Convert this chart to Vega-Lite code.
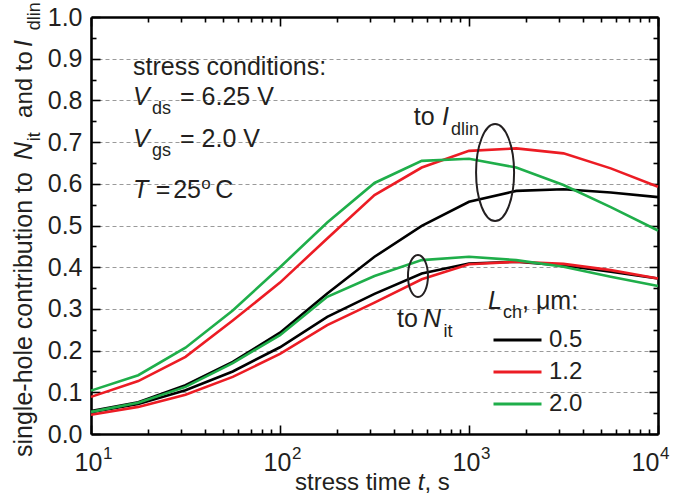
{
"$schema":"https://vega.github.io/schema/vega-lite/v6.json",
"width":567,"height":417,
"autosize":{"type":"none"},
"padding":{"left":91,"top":17,"right":19,"bottom":68},
"config":{"view":{"stroke":null},"font":"Liberation Sans","axis":{"labelFont":"Liberation Sans","labelColor":"#231f20"}},
"data":{"values":[{}]},
"datasets":{
"curves":[
{"L":"0.5","q":"Idlin","t":10,"v":0.055},{"L":"0.5","q":"Idlin","t":17.78,"v":0.076},{"L":"0.5","q":"Idlin","t":31.62,"v":0.117},{"L":"0.5","q":"Idlin","t":56.23,"v":0.173},{"L":"0.5","q":"Idlin","t":100,"v":0.243},{"L":"0.5","q":"Idlin","t":177.8,"v":0.337},{"L":"0.5","q":"Idlin","t":316.2,"v":0.425},{"L":"0.5","q":"Idlin","t":562.3,"v":0.499},{"L":"0.5","q":"Idlin","t":1000,"v":0.557},{"L":"0.5","q":"Idlin","t":1778,"v":0.583},{"L":"0.5","q":"Idlin","t":3162,"v":0.587},{"L":"0.5","q":"Idlin","t":5623,"v":0.579},{"L":"0.5","q":"Idlin","t":10000,"v":0.568},
{"L":"0.5","q":"Nit","t":10,"v":0.052},{"L":"0.5","q":"Nit","t":17.78,"v":0.072},{"L":"0.5","q":"Nit","t":31.62,"v":0.105},{"L":"0.5","q":"Nit","t":56.23,"v":0.150},{"L":"0.5","q":"Nit","t":100,"v":0.208},{"L":"0.5","q":"Nit","t":177.8,"v":0.281},{"L":"0.5","q":"Nit","t":316.2,"v":0.336},{"L":"0.5","q":"Nit","t":562.3,"v":0.385},{"L":"0.5","q":"Nit","t":1000,"v":0.409},{"L":"0.5","q":"Nit","t":1778,"v":0.413},{"L":"0.5","q":"Nit","t":3162,"v":0.404},{"L":"0.5","q":"Nit","t":5623,"v":0.389},{"L":"0.5","q":"Nit","t":10000,"v":0.373},
{"L":"1.2","q":"Idlin","t":10,"v":0.089},{"L":"1.2","q":"Idlin","t":17.78,"v":0.127},{"L":"1.2","q":"Idlin","t":31.62,"v":0.185},{"L":"1.2","q":"Idlin","t":56.23,"v":0.272},{"L":"1.2","q":"Idlin","t":100,"v":0.363},{"L":"1.2","q":"Idlin","t":177.8,"v":0.469},{"L":"1.2","q":"Idlin","t":316.2,"v":0.573},{"L":"1.2","q":"Idlin","t":562.3,"v":0.639},{"L":"1.2","q":"Idlin","t":1000,"v":0.679},{"L":"1.2","q":"Idlin","t":1778,"v":0.685},{"L":"1.2","q":"Idlin","t":3162,"v":0.673},{"L":"1.2","q":"Idlin","t":5623,"v":0.637},{"L":"1.2","q":"Idlin","t":10000,"v":0.593},
{"L":"1.2","q":"Nit","t":10,"v":0.046},{"L":"1.2","q":"Nit","t":17.78,"v":0.065},{"L":"1.2","q":"Nit","t":31.62,"v":0.094},{"L":"1.2","q":"Nit","t":56.23,"v":0.137},{"L":"1.2","q":"Nit","t":100,"v":0.192},{"L":"1.2","q":"Nit","t":177.8,"v":0.261},{"L":"1.2","q":"Nit","t":316.2,"v":0.315},{"L":"1.2","q":"Nit","t":562.3,"v":0.371},{"L":"1.2","q":"Nit","t":1000,"v":0.407},{"L":"1.2","q":"Nit","t":1778,"v":0.413},{"L":"1.2","q":"Nit","t":3162,"v":0.408},{"L":"1.2","q":"Nit","t":5623,"v":0.393},{"L":"1.2","q":"Nit","t":10000,"v":0.373},
{"L":"2.0","q":"Idlin","t":10,"v":0.104},{"L":"2.0","q":"Idlin","t":17.78,"v":0.141},{"L":"2.0","q":"Idlin","t":31.62,"v":0.207},{"L":"2.0","q":"Idlin","t":56.23,"v":0.296},{"L":"2.0","q":"Idlin","t":100,"v":0.400},{"L":"2.0","q":"Idlin","t":177.8,"v":0.507},{"L":"2.0","q":"Idlin","t":316.2,"v":0.602},{"L":"2.0","q":"Idlin","t":562.3,"v":0.655},{"L":"2.0","q":"Idlin","t":1000,"v":0.660},{"L":"2.0","q":"Idlin","t":1778,"v":0.639},{"L":"2.0","q":"Idlin","t":3162,"v":0.597},{"L":"2.0","q":"Idlin","t":5623,"v":0.544},{"L":"2.0","q":"Idlin","t":10000,"v":0.488},
{"L":"2.0","q":"Nit","t":10,"v":0.053},{"L":"2.0","q":"Nit","t":17.78,"v":0.075},{"L":"2.0","q":"Nit","t":31.62,"v":0.113},{"L":"2.0","q":"Nit","t":56.23,"v":0.170},{"L":"2.0","q":"Nit","t":100,"v":0.237},{"L":"2.0","q":"Nit","t":177.8,"v":0.329},{"L":"2.0","q":"Nit","t":316.2,"v":0.379},{"L":"2.0","q":"Nit","t":562.3,"v":0.417},{"L":"2.0","q":"Nit","t":1000,"v":0.425},{"L":"2.0","q":"Nit","t":1778,"v":0.417},{"L":"2.0","q":"Nit","t":3162,"v":0.401},{"L":"2.0","q":"Nit","t":5623,"v":0.377},{"L":"2.0","q":"Nit","t":10000,"v":0.355}
],
"dec":[{"t":10,"e":"1"},{"t":100,"e":"2"},{"t":1000,"e":"3"}]
},
"layer":[
{"data":{"name":"curves"},
 "mark":{"type":"line","strokeWidth":2.6},
 "encoding":{
  "x":{"field":"t","type":"quantitative","scale":{"type":"log","domain":[10,10000]},
   "axis":{"orient":"bottom","title":null,"grid":false,
    "values":[10,20,30,40,50,60,70,80,90,100,200,300,400,500,600,700,800,900,1000,2000,3000,4000,5000,6000,7000,8000,9000,10000],
    "labelExpr":"abs(log(datum.value)/LN10 - round(log(datum.value)/LN10)) < 0.001 ? '10' : ''",
    "labelFontSize":25,"labelPadding":25,"labelOverlap":false,"labelFlush":false,"labelBound":false,
    "labelOffset":{"condition":{"test":"datum.value > 5000","value":-13},"value":-3},
    "tickSize":{"condition":{"test":"abs(log(datum.value)/LN10 - round(log(datum.value)/LN10)) < 0.001","value":-9},"value":-5},
    "tickColor":"#000000","tickWidth":1.6,"domainColor":"#000000","domainWidth":2.6}},
  "y":{"field":"v","type":"quantitative","scale":{"domain":[0,1]},
   "axis":{"orient":"left","title":null,
    "values":[0,0.05,0.1,0.15,0.2,0.25,0.3,0.35,0.4,0.45,0.5,0.55,0.6,0.65,0.7,0.75,0.8,0.85,0.9,0.95,1],
    "labelExpr":"abs(datum.value*10 - round(datum.value*10)) < 0.001 ? format(datum.value, '.1f') : ''",
    "labelFontSize":25,"labelPadding":18,"labelOverlap":false,"labelFlush":false,"labelBound":false,
    "tickSize":{"condition":{"test":"abs(datum.value*10 - round(datum.value*10)) < 0.001","value":-9},"value":-5},
    "tickColor":"#000000","tickWidth":1.6,"domainColor":"#000000","domainWidth":2.6,
    "grid":true,"gridColor":"#9a9a9a","gridDash":[4,3],"gridWidth":1,
    "gridOpacity":{"condition":{"test":"abs(datum.value*10 - round(datum.value*10)) < 0.001 && datum.value > 0.01 && datum.value < 0.99","value":1},"value":0}}},
  "color":{"field":"L","type":"nominal","scale":{"domain":["0.5","1.2","2.0"],"range":["#000000","#ec1c24","#1fae4a"]},
   "legend":{"orient":"none","legendX":401,"legendY":307,"title":null,"symbolType":"stroke","symbolSize":2304,"symbolStrokeWidth":3,"labelFontSize":24,"labelFont":"Liberation Sans","labelColor":"#231f20","labelOffset":6,"rowPadding":0,"clipHeight":32}},
  "detail":{"field":"q"}
 }},
{"data":{"name":"curves"},
 "mark":{"type":"line","opacity":0},
 "encoding":{
  "x":{"field":"t","type":"quantitative","scale":{"type":"log","domain":[10,10000]},
   "axis":{"orient":"top","title":null,"labels":false,"grid":false,
    "values":[10,20,30,40,50,60,70,80,90,100,200,300,400,500,600,700,800,900,1000,2000,3000,4000,5000,6000,7000,8000,9000,10000],
    "tickSize":{"condition":{"test":"abs(log(datum.value)/LN10 - round(log(datum.value)/LN10)) < 0.001","value":-9},"value":-5},
    "tickColor":"#000000","tickWidth":1.6,"domainColor":"#000000","domainWidth":2.6}},
  "y":{"field":"v","type":"quantitative","scale":{"domain":[0,1]},
   "axis":{"orient":"right","title":null,"labels":false,"grid":false,
    "values":[0,0.05,0.1,0.15,0.2,0.25,0.3,0.35,0.4,0.45,0.5,0.55,0.6,0.65,0.7,0.75,0.8,0.85,0.9,0.95,1],
    "tickSize":{"condition":{"test":"abs(datum.value*10 - round(datum.value*10)) < 0.001","value":-9},"value":-5},
    "tickColor":"#000000","tickWidth":1.6,"domainColor":"#000000","domainWidth":2.6}}
 }},
{"data":{"name":"dec"},
 "mark":{"type":"text","align":"left","baseline":"alphabetic","fontSize":17,"dx":12,"dy":25,"color":"#231f20"},
 "encoding":{"x":{"field":"t","type":"quantitative","axis":null},"y":{"datum":0,"type":"quantitative","axis":null},"text":{"field":"e"}}},
{"mark":{"type":"text","align":"left","baseline":"alphabetic","fontSize":17,"dx":2,"dy":25,"color":"#231f20","text":"4"},
 "encoding":{"x":{"datum":10000,"type":"quantitative","axis":null},"y":{"datum":0,"type":"quantitative","axis":null}}},
{"mark":{"type":"point","shape":"M0,-1A0.392,1,0,1,1,0,1A0.392,1,0,1,1,0,-1Z","size":9409,"filled":false,"stroke":"#231f20","strokeWidth":2,"opacity":1},
 "encoding":{"x":{"datum":1374,"type":"quantitative","axis":null},"y":{"datum":0.627,"type":"quantitative","axis":null}}},
{"mark":{"type":"point","shape":"M0,-1A0.476,1,0,1,1,0,1A0.476,1,0,1,1,0,-1Z","size":1764,"filled":false,"stroke":"#231f20","strokeWidth":2,"opacity":1},
 "encoding":{"x":{"datum":537,"type":"quantitative","axis":null},"y":{"datum":0.379,"type":"quantitative","axis":null}}},
{"mark":{"type":"text","align":"left","baseline":"alphabetic","fontSize":25,"color":"#231f20","text":"stress conditions:"},
 "encoding":{"x":{"datum":16.68,"type":"quantitative","axis":null},"y":{"datum":0.861,"type":"quantitative","axis":null}}},
{"mark":{"type":"text","align":"left","baseline":"alphabetic","fontSize":25,"fontStyle":"italic","color":"#231f20","text":"V"},
 "encoding":{"x":{"datum":16.68,"type":"quantitative","axis":null},"y":{"datum":0.789,"type":"quantitative","axis":null}}},
{"mark":{"type":"text","align":"left","baseline":"alphabetic","fontSize":18,"color":"#231f20","text":"ds"},
 "encoding":{"x":{"datum":21.02,"type":"quantitative","axis":null},"y":{"datum":0.767,"type":"quantitative","axis":null}}},
{"mark":{"type":"text","align":"left","baseline":"alphabetic","fontSize":25,"color":"#231f20","text":"= 6.25 V"},
 "encoding":{"x":{"datum":29.58,"type":"quantitative","axis":null},"y":{"datum":0.789,"type":"quantitative","axis":null}}},
{"mark":{"type":"text","align":"left","baseline":"alphabetic","fontSize":25,"fontStyle":"italic","color":"#231f20","text":"V"},
 "encoding":{"x":{"datum":16.68,"type":"quantitative","axis":null},"y":{"datum":0.688,"type":"quantitative","axis":null}}},
{"mark":{"type":"text","align":"left","baseline":"alphabetic","fontSize":18,"color":"#231f20","text":"gs"},
 "encoding":{"x":{"datum":21.02,"type":"quantitative","axis":null},"y":{"datum":0.667,"type":"quantitative","axis":null}}},
{"mark":{"type":"text","align":"left","baseline":"alphabetic","fontSize":25,"color":"#231f20","text":"= 2.0 V"},
 "encoding":{"x":{"datum":29.58,"type":"quantitative","axis":null},"y":{"datum":0.688,"type":"quantitative","axis":null}}},
{"mark":{"type":"text","align":"left","baseline":"alphabetic","fontSize":25,"fontStyle":"italic","color":"#231f20","text":"T"},
 "encoding":{"x":{"datum":16.68,"type":"quantitative","axis":null},"y":{"datum":0.566,"type":"quantitative","axis":null}}},
{"mark":{"type":"text","align":"left","baseline":"alphabetic","fontSize":25,"color":"#231f20","text":"="},
 "encoding":{"x":{"datum":22.0,"type":"quantitative","axis":null},"y":{"datum":0.566,"type":"quantitative","axis":null}}},
{"mark":{"type":"text","align":"left","baseline":"alphabetic","fontSize":25,"color":"#231f20","text":"25"},
 "encoding":{"x":{"datum":27.2,"type":"quantitative","axis":null},"y":{"datum":0.566,"type":"quantitative","axis":null}}},
{"mark":{"type":"text","align":"left","baseline":"alphabetic","fontSize":17,"color":"#231f20","text":"o"},
 "encoding":{"x":{"datum":38.3,"type":"quantitative","axis":null},"y":{"datum":0.587,"type":"quantitative","axis":null}}},
{"mark":{"type":"text","align":"left","baseline":"alphabetic","fontSize":25,"color":"#231f20","text":"C"},
 "encoding":{"x":{"datum":45.5,"type":"quantitative","axis":null},"y":{"datum":0.566,"type":"quantitative","axis":null}}},
{"mark":{"type":"text","align":"left","baseline":"alphabetic","fontSize":25,"color":"#231f20","text":"to"},
 "encoding":{"x":{"datum":510,"type":"quantitative","axis":null},"y":{"datum":0.741,"type":"quantitative","axis":null}}},
{"mark":{"type":"text","align":"left","baseline":"alphabetic","fontSize":25,"fontStyle":"italic","color":"#231f20","text":"I"},
 "encoding":{"x":{"datum":719.5,"type":"quantitative","axis":null},"y":{"datum":0.741,"type":"quantitative","axis":null}}},
{"mark":{"type":"text","align":"left","baseline":"alphabetic","fontSize":18,"color":"#231f20","text":"dlin"},
 "encoding":{"x":{"datum":803,"type":"quantitative","axis":null},"y":{"datum":0.717,"type":"quantitative","axis":null}}},
{"mark":{"type":"text","align":"left","baseline":"alphabetic","fontSize":25,"color":"#231f20","text":"to"},
 "encoding":{"x":{"datum":416,"type":"quantitative","axis":null},"y":{"datum":0.257,"type":"quantitative","axis":null}}},
{"mark":{"type":"text","align":"left","baseline":"alphabetic","fontSize":25,"fontStyle":"italic","color":"#231f20","text":"N"},
 "encoding":{"x":{"datum":571,"type":"quantitative","axis":null},"y":{"datum":0.257,"type":"quantitative","axis":null}}},
{"mark":{"type":"text","align":"left","baseline":"alphabetic","fontSize":18,"color":"#231f20","text":"it"},
 "encoding":{"x":{"datum":733,"type":"quantitative","axis":null},"y":{"datum":0.233,"type":"quantitative","axis":null}}},
{"mark":{"type":"text","align":"left","baseline":"alphabetic","fontSize":25,"fontStyle":"italic","color":"#231f20","text":"L"},
 "encoding":{"x":{"datum":1261,"type":"quantitative","axis":null},"y":{"datum":0.300,"type":"quantitative","axis":null}}},
{"mark":{"type":"text","align":"left","baseline":"alphabetic","fontSize":18,"color":"#231f20","text":"ch"},
 "encoding":{"x":{"datum":1513,"type":"quantitative","axis":null},"y":{"datum":0.278,"type":"quantitative","axis":null}}},
{"mark":{"type":"text","align":"left","baseline":"alphabetic","fontSize":25,"color":"#231f20","text":", μm:"},
 "encoding":{"x":{"datum":1908,"type":"quantitative","axis":null},"y":{"datum":0.300,"type":"quantitative","axis":null}}},
{"mark":{"type":"text","align":"left","baseline":"alphabetic","fontSize":24,"color":"#231f20","text":"stress time "},
 "encoding":{"x":{"datum":120.0,"type":"quantitative","axis":null},"y":{"datum":-0.1343,"type":"quantitative","axis":null}}},
{"mark":{"type":"text","align":"left","baseline":"alphabetic","fontSize":24,"fontStyle":"italic","color":"#231f20","text":"t"},
 "encoding":{"x":{"datum":535.4,"type":"quantitative","axis":null},"y":{"datum":-0.1343,"type":"quantitative","axis":null}}},
{"mark":{"type":"text","align":"left","baseline":"alphabetic","fontSize":24,"color":"#231f20","text":", s"},
 "encoding":{"x":{"datum":580.7,"type":"quantitative","axis":null},"y":{"datum":-0.1343,"type":"quantitative","axis":null}}},
{"mark":{"type":"text","angle":270,"align":"left","baseline":"alphabetic","fontSize":25,"color":"#231f20","text":"single-hole contribution to"},
 "encoding":{"x":{"datum":4.873,"type":"quantitative","axis":null},"y":{"datum":-0.0552,"type":"quantitative","axis":null}}},
{"mark":{"type":"text","angle":270,"align":"left","baseline":"alphabetic","fontSize":25,"fontStyle":"italic","color":"#231f20","text":"N"},
 "encoding":{"x":{"datum":4.873,"type":"quantitative","axis":null},"y":{"datum":0.657,"type":"quantitative","axis":null}}},
{"mark":{"type":"text","angle":270,"align":"left","baseline":"alphabetic","fontSize":18,"color":"#231f20","text":"it"},
 "encoding":{"x":{"datum":5.373,"type":"quantitative","axis":null},"y":{"datum":0.702,"type":"quantitative","axis":null}}},
{"mark":{"type":"text","angle":270,"align":"left","baseline":"alphabetic","fontSize":24,"color":"#231f20","text":"and to"},
 "encoding":{"x":{"datum":4.873,"type":"quantitative","axis":null},"y":{"datum":0.758,"type":"quantitative","axis":null}}},
{"mark":{"type":"text","angle":270,"align":"left","baseline":"alphabetic","fontSize":25,"fontStyle":"italic","color":"#231f20","text":"I"},
 "encoding":{"x":{"datum":4.873,"type":"quantitative","axis":null},"y":{"datum":0.928,"type":"quantitative","axis":null}}},
{"mark":{"type":"text","angle":270,"align":"left","baseline":"alphabetic","fontSize":18,"color":"#231f20","text":"dlin"},
 "encoding":{"x":{"datum":5.373,"type":"quantitative","axis":null},"y":{"datum":0.968,"type":"quantitative","axis":null}}}
],
"resolve":{"axis":{"x":"independent","y":"independent"}}
}
